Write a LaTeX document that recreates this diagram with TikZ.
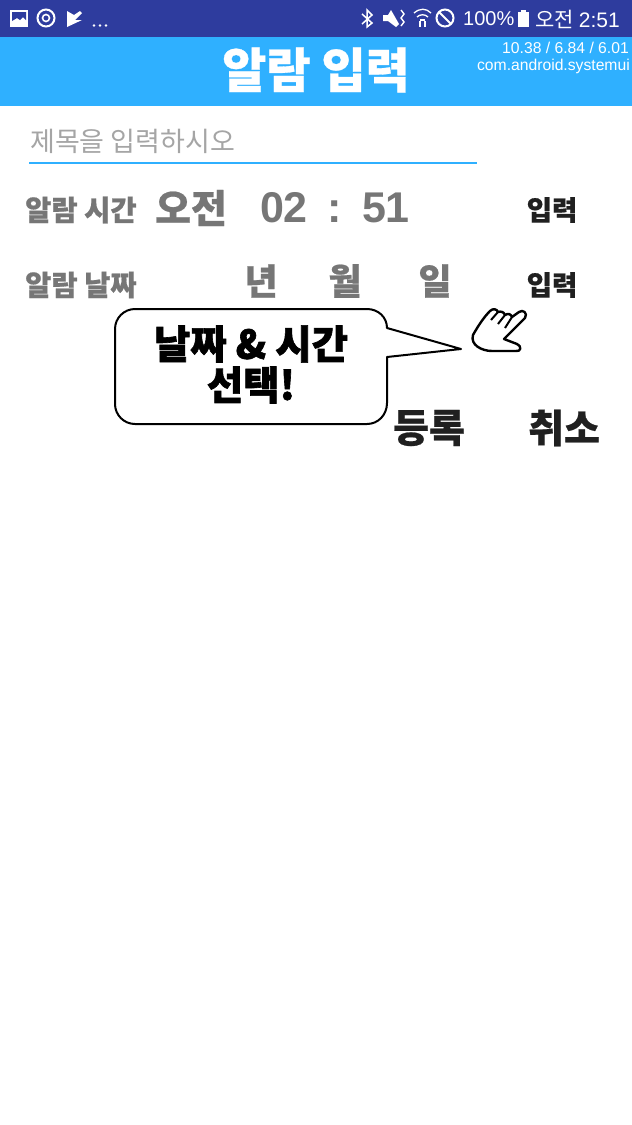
\documentclass[tikz,border=0pt]{standalone}
\usepackage{fontspec}
\setmainfont[BoldFeatures={FakeBold=0.6}]{Noto Sans CJK KR}
\newfontfamily\heavyfont[BoldFeatures={FakeBold=1.6}]{Noto Sans CJK KR}
\newfontfamily\robotofont{Liberation Sans}
\usetikzlibrary{positioning}
\definecolor{StatusBlue}{RGB}{46,60,158}
\definecolor{BarBlue}{RGB}{47,176,255}
\definecolor{LabelGray}{RGB}{118,118,118}
\definecolor{HintGray}{RGB}{165,165,165}
\definecolor{ButtonDark}{RGB}{32,32,32}
\tikzset{
  rowlabel/.style={inner sep=0pt, font=\bfseries\fontsize{28.5}{28.5}\selectfont, text=LabelGray},
  field/.style={inner sep=0pt, font=\bfseries\fontsize{36}{36}\selectfont, text=LabelGray},
  digit/.style={inner sep=0pt, font=\robotofont\bfseries\fontsize{43}{43}\selectfont, text=LabelGray},
  inputbtn/.style={inner sep=0pt, font=\bfseries\fontsize{27.5}{27.5}\selectfont, text=ButtonDark},
  actionbtn/.style={inner sep=0pt, font=\bfseries\fontsize{39}{39}\selectfont, text=ButtonDark},
  statustext/.style={inner sep=0pt, font=\fontsize{21}{21}\selectfont, text=white},
  cputext/.style={inner sep=0pt, font=\robotofont\fontsize{15.7}{15.7}\selectfont, text=white},
  bubbletext/.style={inner sep=0pt, font=\heavyfont\bfseries\fontsize{39.5}{39.5}\selectfont, text=black},
  bubble/.style={draw=black, fill=white, line width=2pt, line join=round},
  icon/.style={draw=white, line width=2pt}
}
\begin{document}
\begin{tikzpicture}[x=1pt,y=-1pt]
\useasboundingbox (0,0) rectangle (632,1125);
\fill[white] (0,0) rectangle (632,1125);
% bars
\fill[StatusBlue] (0,0) rectangle (632,37);
\fill[BarBlue] (0,37) rectangle (632,106);
\node[inner sep=0pt, font=\bfseries\fontsize{48}{48}\selectfont, text=white] (title) at (316,70) {알람 입력};
% status icons, left
\fill[white] (10,10) rectangle (28,27);
\fill[StatusBlue] (12,12) -- (26,12) -- (26,20) -- (23,17) -- (20,20) -- (17,18) -- (12,21) -- cycle;
\draw[icon] (46,18) circle (8.5);
\draw[icon, line width=1.6pt] (46,18) circle (3.5);
\fill[white] (67,11) -- (74,15) -- (80,11) -- (82,13) -- (75,20) -- (82,20) -- (67,27) -- cycle;
\foreach \dotx in {94,100,106}
  \fill[white] (\dotx,25.5) circle (1.3);
% status icons, right
\draw[white, line width=1.5pt] (362,14) -- (372,23) -- (367,27) -- (367,10) -- (372,15) -- (362,24);
\fill[white] (383,15) -- (388,15) -- (391,10) -- (399,24) -- (396,27) -- (388,21) -- (383,21) -- cycle;
\draw[white, line width=1.4pt] (401,10) -- (404,14) -- (401,18) -- (404,22) -- (401,26);
\draw[white, line width=1.3pt] (414,13) .. controls (420,8) and (426,8) .. (431,13);
\draw[white, line width=1.3pt] (417,17) .. controls (420,14) and (425,14) .. (428,17);
\draw[white, line width=1.3pt] (420,20) -- (425,20);
\draw[white, line width=1.3pt] (420,21) -- (420,27) (425,21) -- (425,27);
\draw[white, line width=2pt] (445,18) circle (8.5);
\draw[white, line width=2pt] (439,12) -- (451,24);
\node[statustext, anchor=west, font=\robotofont\fontsize{20}{20}\selectfont] (battery) at (463,19) {100\%};
\fill[white] (518,12) rectangle (529,27);
\fill[white] (521,10) rectangle (526,12);
\node[statustext, anchor=east] (clock) at (620,19) {오전 {\robotofont 2:51}};
% cpu readout
\node[cputext, anchor=east] (load) at (629,48) {10.38 / 6.84 / 6.01};
\node[cputext, anchor=east] (proc) at (630,66) {com.android.systemui};
% form
\node[inner sep=0pt, anchor=west, font=\fontsize{27}{27}\selectfont, text=HintGray] (hint) at (30,141) {제목을 입력하시오};
\coordinate (lineL) at (29,163);
\coordinate (lineR) at (477,163);
\draw[BarBlue, line width=2.5pt] (lineL) -- (lineR);
\node[rowlabel, anchor=west] (timelabel) at (25,210) {알람 시간};
\node[field, font=\bfseries\fontsize{39}{39}\selectfont] (ampm) at (191,208) {오전};
\node[digit] (hour) at (284,208) {02};
\node[digit] (colon) at (335,212) {:};
\node[digit] (minute) at (386,208) {51};
\node[inputbtn] (timeinput) at (552,210) {입력};
\node[rowlabel, anchor=west] (datelabel) at (25,285) {알람 날짜};
\node[field] (year) at (261,281) {년};
\node[field] (month) at (345,281) {월};
\node[field] (day) at (435,281) {일};
\node[inputbtn] (dateinput) at (552,285) {입력};
% speech bubble
\draw[bubble] (135,309) -- (367,309) .. controls (378,309) and (387,317) .. (387,328)
  -- (461,349) -- (387,357) -- (387,403)
  .. controls (387,415) and (378,424) .. (367,424) -- (135,424)
  .. controls (124,424) and (115,415) .. (115,404) -- (115,329)
  .. controls (115,318) and (124,309) .. (135,309) -- cycle;
\node[bubbletext] (bubbleA) at (251,344) {날짜 \& 시간};
\node[bubbletext] (bubbleB) at (251,385) {선택!};
% hand
\draw[black, line width=2.4pt, fill=white, line join=round] (473,335)
  .. controls (478,326) and (484,317) .. (490,311)
  .. controls (493,308) and (497,309) .. (498,312)
  .. controls (501,311) and (504,312) .. (505,315)
  .. controls (508,313) and (511,314) .. (512,317)
  -- (519,312)
  .. controls (523,309) and (528,313) .. (525,318)
  -- (504,339) -- (517,344)
  .. controls (522,346) and (521,352) .. (516,351)
  -- (492,351)
  .. controls (482,351) and (470,345) .. (473,335) -- cycle;
\draw[black, line width=2pt] (498,312) -- (491,320) (505,315) -- (498,324) (512,317) -- (505,328);
% buttons
\node[actionbtn] (register) at (429,428) {등록};
\node[actionbtn] (cancel) at (564,428) {취소};
\end{tikzpicture}
\end{document}
